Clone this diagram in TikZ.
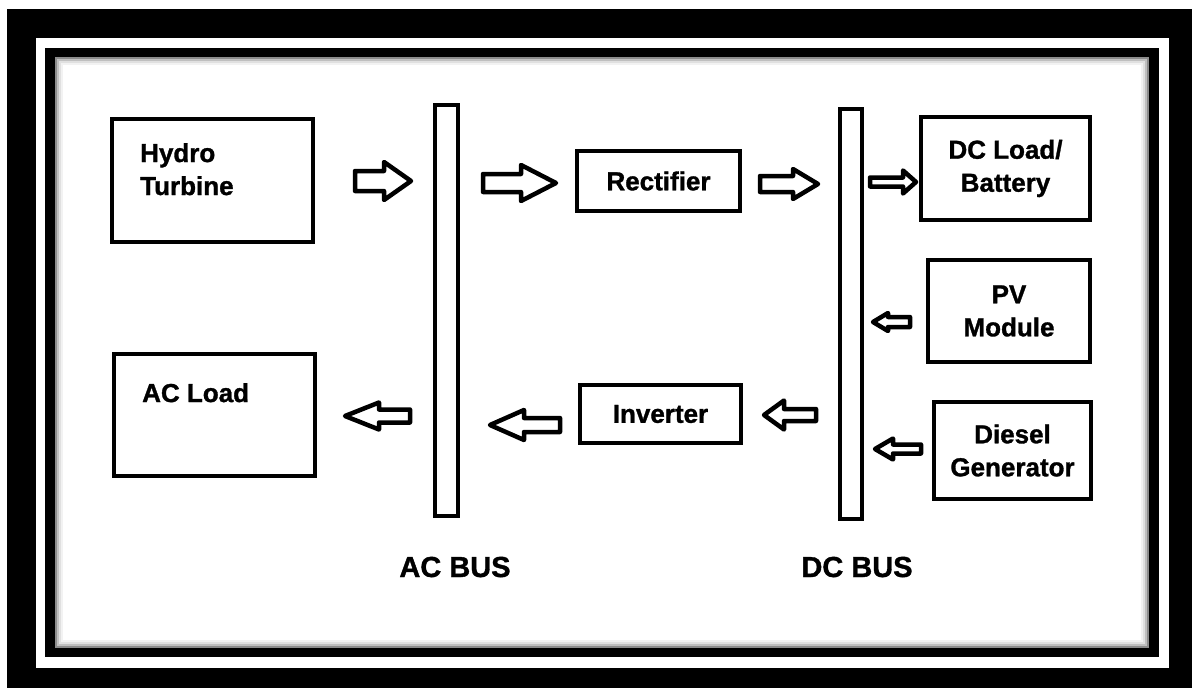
\documentclass[tikz,border=0pt]{standalone}
\usepackage{fontspec}
\setmainfont{Liberation Sans}
\newfontfamily\heavyfont{Liberation Sans}[BoldFeatures={FakeBold=1.2}]

\tikzset{
  unit/.style={draw, line width=4pt, fill=white, inner sep=0pt, align=center, font=\fontsize{26}{33}\selectfont\heavyfont\bfseries},
  unittext/.style={anchor=north west, inner sep=0pt, align=left, font=\fontsize{26}{33}\selectfont\heavyfont\bfseries},
  busbar/.style={draw, line width=4.5pt, fill=white, inner sep=0pt},
  buslabel/.style={anchor=base, inner sep=0pt, font=\fontsize{29}{33}\selectfont\heavyfont\bfseries},
  fat/.style={draw, line width=4.5pt, line join=round, fill=white},
}
% tail x, tip x, y, head base x, head half width, shaft half width
\newcommand{\fatarrow}[6]{%
  \draw[fat] (#1,{#3-#6}) -- (#4,{#3-#6}) -- (#4,{#3-#5}) -- (#2,#3) -- (#4,{#3+#5}) -- (#4,{#3+#6}) -- (#1,{#3+#6}) -- cycle;}

\begin{document}
\begin{tikzpicture}[x=1pt,y=-1pt]
\useasboundingbox (0,0) rectangle (1192,688);
% frame
\fill[black] (7,9) rectangle (1192,688);
\fill[white] (36,38) rectangle (1169,668);
\fill[black] (45,48) rectangle (1159,657);
\fill[white] (55,57) rectangle (1149,648);
\foreach \s/\c in {1/45,3/25,5/12,7/5}
  \draw[black!\c, line width=2pt] ({55+\s},{57+\s}) rectangle ({1149-\s},{648-\s});

% blocks
\node[unit, minimum width=201pt, minimum height=123pt] (hydro) at (212.5,180.5) {};
\node[unittext] (hydrotext) at (140,143) {Hydro\\Turbine};
\node[unit, minimum width=201pt, minimum height=122pt] (acload) at (214.5,415) {};
\node[unittext] (acloadtext) at (142,383) {AC Load};
\node[unit, minimum width=163pt, minimum height=60pt] (rectifier) at (658.5,181) {Rectifier};
\node[unit, minimum width=161pt, minimum height=58pt] (inverter) at (660.5,414) {Inverter};
\node[unit, minimum width=169pt, minimum height=103pt] (dcload) at (1005.5,168.5) {DC Load/\\Battery};
\node[unit, minimum width=162pt, minimum height=102pt] (pv) at (1009,311) {PV\\Module};
\node[unit, minimum width=157pt, minimum height=97pt] (diesel) at (1012.5,450.5) {Diesel\\Generator};

% buses
\node[busbar, minimum width=23pt, minimum height=411pt] (acbus) at (446.5,310.5) {};
\node[busbar, minimum width=22pt, minimum height=410pt] (dcbus) at (851,314) {};
\node[buslabel] (acbuslabel) at (455,577) {AC BUS};
\node[buslabel] (dcbuslabel) at (857,577) {DC BUS};

% block arrows
\fatarrow{355}{411}{181}{384}{19}{10}
\fatarrow{483}{556}{183}{521}{18}{9}
\fatarrow{760}{818}{184}{793}{15}{8}
\fatarrow{870}{916}{182}{903}{11.5}{4.5}
\fatarrow{910}{873}{322}{888}{9}{5}
\fatarrow{921}{875}{449}{893}{10.5}{4.5}
\fatarrow{816}{764}{415}{784}{14.5}{6}
\fatarrow{560}{490}{425}{524}{15}{7}
\fatarrow{410}{345}{416}{379}{13.5}{6.5}
\end{tikzpicture}
\end{document}
